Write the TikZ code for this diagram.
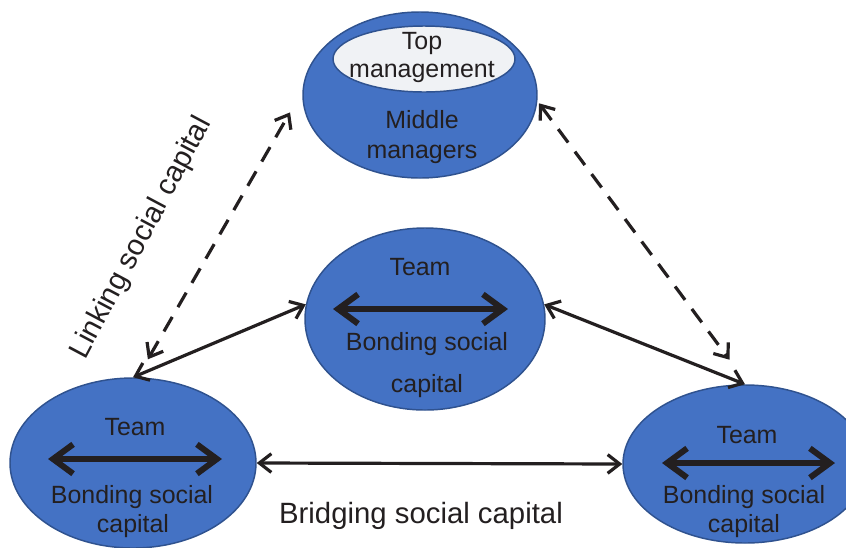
\documentclass[tikz,border=0pt]{standalone}
\usepackage{fontspec}
\setmainfont{Liberation Sans}
\usetikzlibrary{shapes.geometric}
\usetikzlibrary{arrows.meta}
\definecolor{teamblue}{RGB}{68,114,196}
\definecolor{rimblue}{RGB}{47,82,143}
\definecolor{ink}{RGB}{35,31,32}
\definecolor{paleblue}{RGB}{240,242,245}
\tikzstyle{group} = [ellipse,fill=teamblue,draw=rimblue,line width=1.1pt,
inner sep=0pt]
\tikzstyle{core} = [group,fill=paleblue]
\tikzstyle{words} = [text=ink,inner sep=0pt,text height=0.72em,text depth=0pt,
yshift=-4pt,font=\fontsize{18.7}{22}\selectfont]
\tikzstyle{caption} = [words,font=\fontsize{22}{26}\selectfont]
\tikzstyle{tie} = [<->,>={Straight Barb[length=9pt,width=14pt]},
line width=2.4pt,draw=ink]
\tikzstyle{loose} = [tie,dash pattern=on 12.5pt off 8.5pt]
\tikzstyle{bond} = [<->,>={Straight Barb[length=15pt,width=22pt]},
line width=4.5pt,line cap=round,draw=ink]
\newcommand{\link}[3][]{ %
  % Two-headed connector between node anchors #2 and #3.
  \path (#2) edge [tie, #1] (#3) ;%
}

\begin{document}
\begin{tikzpicture}[x=0.75pt,y=-0.75pt]
  \useasboundingbox (0,0) rectangle (846,547);
  \node[group,minimum width=175.5pt,minimum height=124.5pt](mgr) at (420,95) {};
  \node[core,minimum width=136.5pt,minimum height=49.5pt](topmgr) at (424,59) {};
  \node[group,minimum width=180pt,minimum height=136.5pt](teamM) at (425,319) {};
  \node[group,minimum width=184.5pt,minimum height=127.5pt](teamL) at (133,463) {};
  \node[group,minimum width=183pt,minimum height=118.5pt](teamR) at (745,464) {};
  \node[words](topA) at (422,39) {Top};
  \node[words](topB) at (422,67) {management};
  \node[words](midA) at (422,118) {Middle};
  \node[words](midB) at (422,148) {managers};
  \node[words](teamMA) at (420,265) {Team};
  \node[words](teamMB) at (427,340) {Bonding social};
  \node[words](teamMC) at (427,382) {capital};
  \node[words](teamLA) at (135,425) {Team};
  \node[words](teamLB) at (132,493) {Bonding social};
  \node[words](teamLC) at (133,522) {capital};
  \node[words](teamRA) at (747,433) {Team};
  \node[words](teamRB) at (744,493) {Bonding social};
  \node[words](teamRC) at (744,522) {capital};
  \node[caption](bridging) at (421,513) {Bridging social capital};
  \node[caption,rotate=62](linking) at (144,234) {Linking social capital};
  \coordinate (bondM1) at (333,309);
  \coordinate (bondM2) at (508,309);
  \coordinate (bondL1) at (48,459);
  \coordinate (bondL2) at (222,459);
  \coordinate (bondR1) at (662,463);
  \coordinate (bondR2) at (835,463);
  \draw[bond] (bondM1) -- (bondM2);
  \draw[bond] (bondL1) -- (bondL2);
  \draw[bond] (bondR1) -- (bondR2);
  \link{teamL.north}{teamM.173};
  \link{teamM.7}{teamR.north};
  \link{teamL.east}{teamR.west};
  \link[loose,shorten <=15.6pt,shorten >=18.6pt]{teamL.87}{mgr.178};
  \link[loose,shorten <=2pt,shorten >=23pt]{mgr.357}{teamR.88};
\end{tikzpicture}
\end{document}
